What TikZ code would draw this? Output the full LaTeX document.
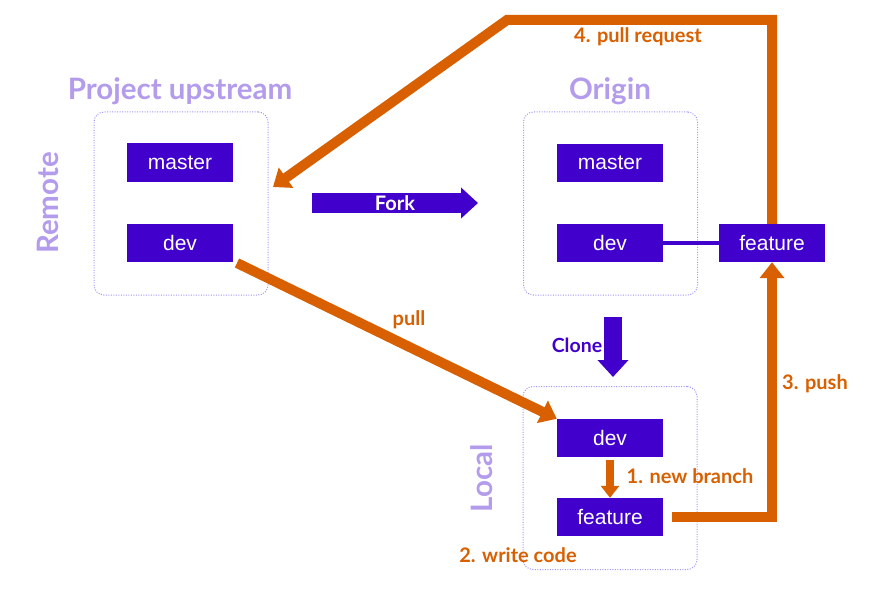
\documentclass[tikz,border=0pt]{standalone}
\usepackage{fontspec}
\setmainfont{Lato}
\newfontfamily\boxfont{Liberation Sans}
\usetikzlibrary{arrows.meta}
\definecolor{dpurple}{RGB}{66,0,204}
\definecolor{lpurple}{RGB}{180,156,236}
\definecolor{dotc}{RGB}{165,145,240}
\definecolor{orng}{RGB}{216,96,0}
\begin{document}
\begin{tikzpicture}[x=1pt,y=-1pt,
  branch/.style={fill=dpurple, text=white, font=\boxfont\fontsize{21}{24}\selectfont, minimum width=106pt, minimum height=38pt, inner sep=0pt},
  group/.style={draw=dotc, dash pattern=on 1pt off 1.5pt, line width=1pt, rounded corners=10pt, minimum width=174pt, minimum height=183pt},
  title/.style={text=lpurple, font=\bfseries\fontsize{29.5}{34}\selectfont, inner sep=0pt},
  olabel/.style={text=orng, font=\bfseries\fontsize{20}{24}\selectfont, inner sep=0pt},
  oflow/.style={draw=orng, line width=10pt, line join=miter},
  otip/.style={-{Triangle[length=16pt,width=24pt]}},
  pflow/.style={draw=dpurple},
]
\fill[white] (0,0) rectangle (874,596);
\useasboundingbox (0,0) rectangle (874,596);

% groups
\node[group] (remote) at (181,203.5) {};
\node[group] (origin) at (610.5,203.5) {};
\node[group] (local) at (610,478) {};

% titles
\node[title] (uptitle) at (180,91) {Project upstream};
\node[title] (origtitle) at (610,91) {Origin};
\node[title, rotate=90] (remotelbl) at (48,203) {Remote};
\node[title, rotate=90] (locallbl) at (482,478) {Local};

% branches
\node[branch] (umaster) at (180,162.5) {master};
\node[branch] (udev) at (180,242.5) {dev};
\node[branch] (omaster) at (610,163) {master};
\node[branch] (odev) at (610,243) {dev};
\node[branch] (ofeat) at (772,243) {feature};
\node[branch] (ldev) at (610,438) {dev};
\node[branch] (lfeat) at (610,517) {feature};

% origin dev -- feature
\draw[dpurple, line width=4pt] (odev.east) -- (ofeat.west);

% Fork arrow
\coordinate (forka) at (312,203);
\coordinate (forkb) at (478,203);
\draw[pflow, line width=20pt, -{Triangle[length=17pt,width=30pt]}] (forka) -- (forkb);
\node[text=white, font=\bfseries\fontsize{20}{24}\selectfont] (forklbl) at (395,203) {Fork};

% Clone arrow
\coordinate (clonea) at (613,317);
\coordinate (cloneb) at (613,377);
\draw[pflow, line width=18pt, -{Triangle[length=17pt,width=30pt]}] (clonea) -- (cloneb);
\node[text=dpurple, font=\bfseries\fontsize{19.5}{24}\selectfont, inner sep=0pt] (clonelbl) at (577,345) {Clone};

% new branch
\draw[orng, line width=8pt, -{Triangle[length=12pt,width=18pt]}] ([yshift=-3pt]ldev.south) -- (lfeat.north);
\node[olabel] (nblbl) at (690,476) {1. new branch};
\node[olabel] (wclbl) at (518,555) {2. write code};

% pull
\coordinate (pullstart) at (237,263);
\draw[oflow, otip] (pullstart) -- (ldev.north west);
\node[olabel] (pulllbl) at (409,320) {pull};

% push
\draw[oflow, otip] ([xshift=9pt]lfeat.east) -| (ofeat.south);
\node[olabel] (pushlbl) at (815,384) {3. push};

% pull request
\coordinate (prcorner) at (507,20);
\coordinate (prend) at (273,187);
\draw[oflow, otip] (ofeat.north) |- (prcorner) -- (prend);
\node[olabel] (prlbl) at (638,37) {4. pull request};
\end{tikzpicture}
\end{document}
